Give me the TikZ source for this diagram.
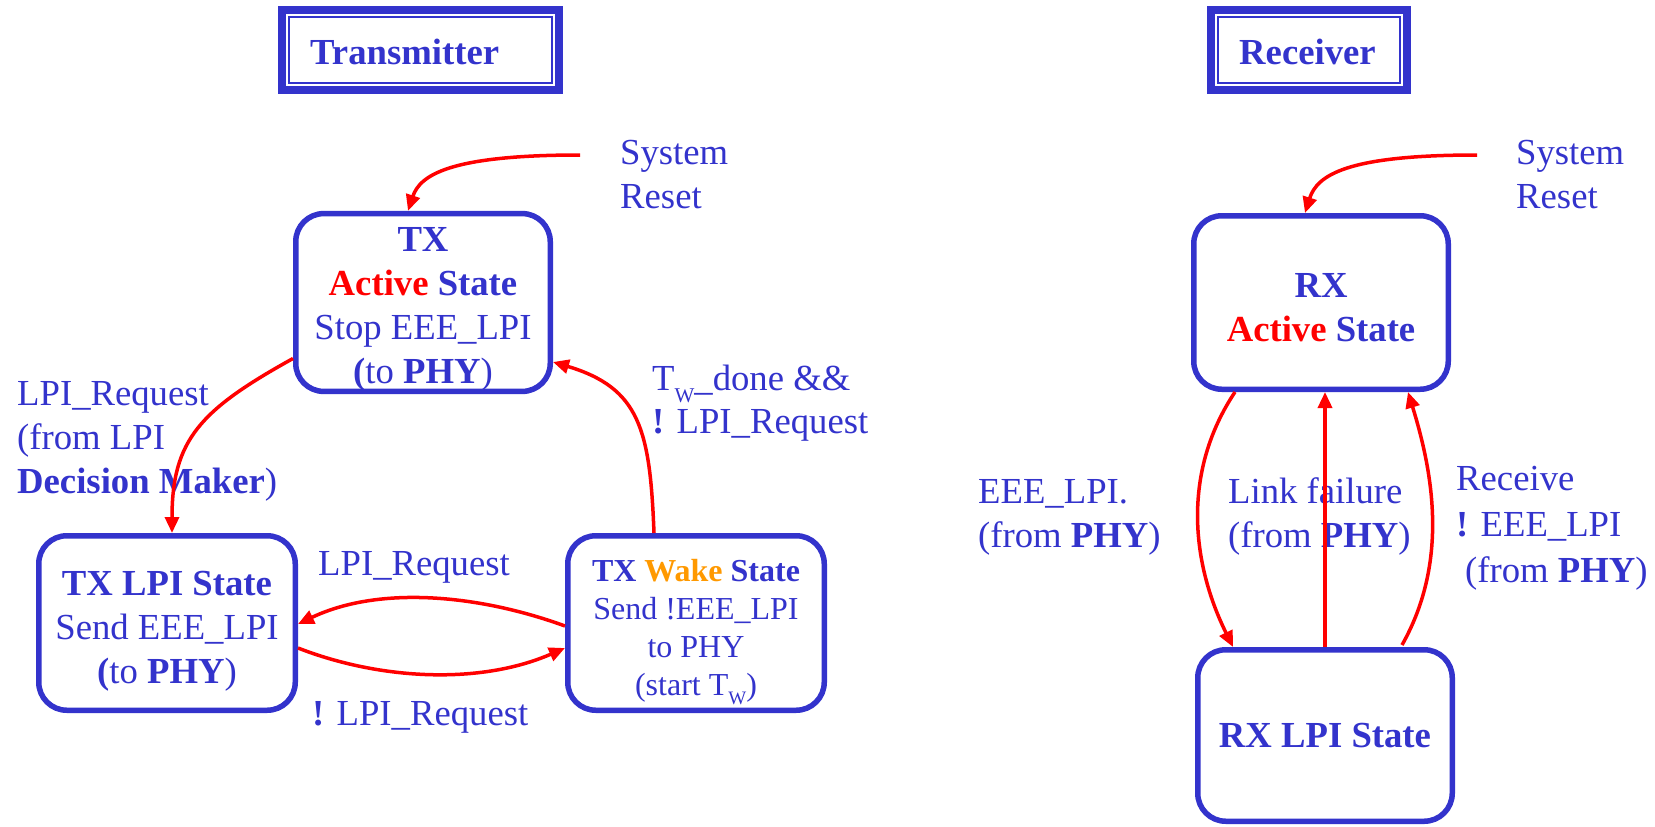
\documentclass[tikz,border=0pt]{standalone}
\usepackage{fontspec}
\setmainfont{Liberation Serif}
\usetikzlibrary{arrows.meta,calc}
\definecolor{sblue}{RGB}{51,51,204}
\definecolor{sred}{RGB}{255,0,0}
\definecolor{sorange}{RGB}{255,153,0}
% lowered small W used as a subscript
\newcommand{\tsubw}[2]{\raisebox{-#2}{\fontsize{#1}{#1}\selectfont W}}
% invisible strut that pushes the text block of a state down
\newcommand{\topstrut}[1]{\rule{0pt}{#1}}

\begin{document}
\begin{tikzpicture}[x=1pt,y=-1pt,
  state/.style={draw=sblue, line width=5.5pt, rounded corners=28pt, fill=white,
    inner sep=0pt, align=center, text=sblue, font=\fontsize{36.7}{44}\selectfont},
  lbl/.style={text=sblue, inner sep=0pt, align=left, anchor=base west,
    font=\fontsize{36.7}{44}\selectfont},
  titlebox/.style={draw=sblue, line width=8pt, inner sep=0pt},
  titletext/.style={text=sblue, inner sep=0pt, anchor=base west,
    font=\fontsize{36.7}{44}\selectfont\bfseries},
  trans/.style={draw=sred, line width=3.5pt, -{Triangle[length=16pt,width=14pt]}},
  ]
\useasboundingbox (0,0) rectangle (1655,827);

% ---- titles
\node[titlebox, minimum width=277pt, minimum height=80pt] (ttx) at (420.5,50) {};
\draw[sblue, line width=1.5pt] ($(ttx.north west)+(11,11)$) rectangle ($(ttx.south east)+(-11,-11)$);
\node[titletext] (ttxt) at (310,64) {Transmitter};

\node[titlebox, minimum width=196pt, minimum height=80pt] (trx) at (1309,50) {};
\draw[sblue, line width=1.5pt] ($(trx.north west)+(11,11)$) rectangle ($(trx.south east)+(-11,-11)$);
\node[titletext] (trxt) at (1239,64) {Receiver};

% ---- transmitter states
\node[state, minimum width=254.5pt, minimum height=173.5pt] (txact) at (423,302.5)
  {\topstrut{38pt}\textbf{TX}\\\textbf{\color{sred}Active} \textbf{State}\\Stop EEE\_LPI\\\textbf{(}to \textbf{PHY})};
\node[state, minimum width=256.5pt, minimum height=174.5pt] (txlpi) at (167,623)
  {\topstrut{40pt}\textbf{TX LPI State}\\Send EEE\_LPI\\\textbf{(}to \textbf{PHY})};
\node[state, minimum width=256.5pt, minimum height=174.5pt, font=\fontsize{32}{38}\selectfont] (txwake) at (696,623)
  {\topstrut{40pt}\textbf{TX \textcolor{sorange}{Wake} State}\\Send !EEE\_LPI\\to PHY\\(start T\tsubw{19}{9pt})};

% ---- receiver states
\node[state, minimum width=254.5pt, minimum height=173.5pt] (rxact) at (1321,302.5)
  {\topstrut{34pt}\textbf{RX}\\\textbf{\textcolor{sred}{Active} State}};
\node[state, minimum width=254.5pt, minimum height=171.5pt] (rxlpi) at (1325,735.5)
  {\textbf{RX LPI State}};

% ---- transition labels (anchored on the baseline of their last line)
\node[lbl] (lsr1) at (620,208) {System\\Reset};
\node[lbl] (lsr2) at (1516,208) {System\\Reset};
\node[lbl] (lreq) at (17,493) {LPI\_Request\\(from LPI\\\textbf{Decision Maker})};
\node[lbl, font=\fontsize{36.7}{43}\selectfont] (ltw) at (652,433) {T\tsubw{21}{12pt}\_done \&\&\\\textbf{!} LPI\_Request};
\node[lbl] (lup) at (318,575) {LPI\_Request};
\node[lbl] (ldown) at (312,725) {\textbf{!} LPI\_Request};
\node[lbl] (lrx1) at (978,547) {EEE\_LPI.\\(from \textbf{PHY})};
\node[lbl] (lrx2) at (1228,547) {Link failure\\(from \textbf{PHY})};
\node[lbl, font=\fontsize{36.7}{46}\selectfont] (lrx3) at (1456,582) {Receive\\\textbf{!} EEE\_LPI\\\hspace*{9pt}(from \textbf{PHY})};

% ---- transitions
\coordinate (txrs) at (580,155);
\coordinate (rxrs) at (1477,155);
\draw[trans] (txrs) .. controls (450,155) and (420,175) .. ($(txact.north)+(-15,0)$);
\draw[trans] (rxrs) .. controls (1347,155) and (1317,175) .. ($(rxact.north)+(-16,0)$);

\draw[trans] ($(txact.west)+(0,56)$) .. controls (200,410) and (172,440) .. ($(txlpi.north)+(5,0)$);
\draw[trans] ($(txwake.north)+(-42,0)$) .. controls (650,430) and (640,388) .. ($(txact.east)+(0,59.5)$);
\draw[trans] ($(txwake.west)+(0,3)$) .. controls (480,595) and (380,585) .. ($(txlpi.east)+(0,1)$);
\draw[trans] ($(txlpi.east)+(0,25)$) .. controls (380,680) and (480,685) .. ($(txwake.west)+(0,25)$);

\draw[trans] ($(rxact.south)+(-86,0)$) .. controls (1183,470) and (1190,560) .. ($(rxlpi.north)+(-92,0)$);
\draw[trans] (rxlpi.north) -- (rxlpi.north |- rxact.south);
\draw[trans] ($(rxlpi.north)+(77,-2)$) .. controls (1450,560) and (1432,470) .. ($(rxact.south)+(87,0)$);
\end{tikzpicture}
\end{document}
